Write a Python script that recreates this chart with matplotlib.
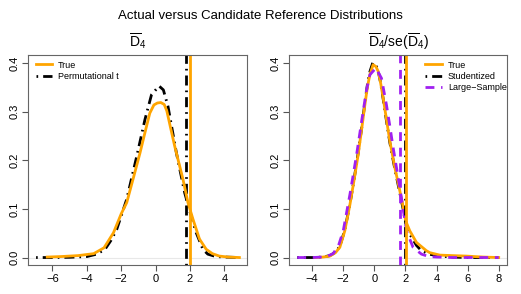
import matplotlib
matplotlib.use('Agg')
import matplotlib.pyplot as plt

plt.rcParams['font.family'] = ['Liberation Sans', 'DejaVu Sans']
plt.rcParams['mathtext.fontset'] = 'custom'
plt.rcParams['mathtext.rm'] = 'Liberation Sans'
plt.rcParams['mathtext.it'] = 'Liberation Sans'

# left panel: Dbar_4
true_x = [-6.3, -5.5, -4.5, -3.6, -3.0, -2.45, -2.0, -1.68, -1.3, -0.91, -0.6, -0.34, -0.1,
          0.1, 0.3, 0.5, 0.65, 0.85, 1.11, 1.59, 1.88, 2.17, 2.55, 2.94, 3.3, 3.7, 4.2, 4.87]
true_y = [0.001, 0.002, 0.004, 0.008, 0.02, 0.051, 0.09, 0.113, 0.163, 0.215, 0.26, 0.297, 0.314,
          0.318, 0.319, 0.315, 0.302, 0.27, 0.229, 0.161, 0.113, 0.079, 0.038, 0.017, 0.008, 0.003, 0.001, 0.0]
perm_x = [-6.95, -6.0, -5.0, -4.0, -3.42, -2.94, -2.6, -2.26, -1.68, -1.1, -0.62, -0.24, 0.2,
          0.45, 0.72, 1.21, 1.69, 2.07, 2.36, 2.75, 3.03, 3.5, 4.0, 4.9]
perm_y = [0.0, 0.0, 0.0005, 0.002, 0.007, 0.017, 0.035, 0.058, 0.12, 0.208, 0.284, 0.335, 0.353,
          0.345, 0.311, 0.215, 0.133, 0.085, 0.051, 0.017, 0.007, 0.002, 0.001, 0.0]
crit_true_left = 1.97
crit_perm = 1.78

# right panel: Dbar_4 / se(Dbar_4)
true2_x = [-3.8, -3.3, -2.86, -2.5, -2.22, -1.9, -1.57, -1.3, -1.04, -0.8, -0.61, -0.45, -0.29, -0.08,
           0.1, 0.25, 0.4, 0.57, 0.8, 1.0, 1.32, 1.64, 1.85, 2.02, 2.28, 2.71, 3.35, 3.57, 4.21,
           5.0, 5.9, 7.0, 8.0]
true2_y = [0.0, 0.001, 0.003, 0.01, 0.021, 0.055, 0.109, 0.16, 0.212, 0.268, 0.314, 0.35, 0.376, 0.397,
           0.393, 0.383, 0.36, 0.328, 0.28, 0.239, 0.185, 0.137, 0.105, 0.075, 0.055, 0.031, 0.014, 0.01, 0.005,
           0.004, 0.003, 0.001, 0.0]
stud_x = [-4.96, -4.0, -3.3, -2.86, -2.5, -2.22, -1.9, -1.57, -1.3, -1.04, -0.8, -0.61, -0.45, -0.29,
          -0.1, 0.1, 0.25, 0.4, 0.57, 0.8, 1.0, 1.32, 1.64, 1.85, 2.02, 2.28, 2.71, 3.0, 3.5, 4.2,
          5.0, 6.0, 7.0, 8.0]
stud_y = [0.0, 0.0, 0.001, 0.004, 0.011, 0.023, 0.057, 0.11, 0.162, 0.215, 0.27, 0.318, 0.355, 0.382,
          0.401, 0.396, 0.384, 0.36, 0.326, 0.277, 0.236, 0.182, 0.133, 0.1, 0.07, 0.048, 0.025, 0.015, 0.007, 0.003,
          0.001, 0.0, 0.0, 0.0]
large_x = [-4.96, -4.0, -3.3, -3.0, -2.65, -2.3, -2.0, -1.57, -1.36, -1.14, -0.72, -0.5, -0.29, 0.1,
           0.46, 0.78, 1.0, 1.21, 1.64, 2.07, 2.49, 3.03, 3.5, 4.0, 5.0, 6.5, 8.0]
large_y = [0.0, 0.0, 0.001, 0.003, 0.008, 0.025, 0.055, 0.13, 0.17, 0.212, 0.301, 0.345, 0.376, 0.39,
           0.369, 0.314, 0.27, 0.226, 0.144, 0.055, 0.021, 0.007, 0.002, 0.001, 0.0, 0.0, 0.0]
crit_true_right = 2.02
crit_stud = 1.97
crit_large = 1.645

ORANGE = '#FFA500'
PURPLE = '#A020F0'
DOTDASH = (0, (0.6, 1.8, 3.6, 1.8))
DASHED = (0, (3.2, 2.4))


def style_axes(ax, xlim, xticks):
    ax.set_xlim(xlim)
    ax.set_ylim(-0.016, 0.416)
    ax.set_xticks(xticks)
    ax.set_xticklabels([str(t) if t >= 0 else '\u2212' + str(-t) for t in xticks])
    ax.set_yticks([0.0, 0.1, 0.2, 0.3, 0.4])
    ax.set_yticklabels(['0.0', '0.1', '0.2', '0.3', '0.4'], rotation=90, va='center')
    ax.tick_params(labelsize=8, length=4, width=0.8, color='#555555', pad=2)
    for s in ax.spines.values():
        s.set_color('#666666')
        s.set_linewidth(0.8)
    ax.axhline(0, color='#e8e8e8', lw=0.8, zorder=0)


def add_legend(ax, order, x0):
    h, l = ax.get_legend_handles_labels()
    ax.legend([h[i] for i in order], [l[i] for i in order], loc='upper left',
              bbox_to_anchor=(x0, 0.975), frameon=False, fontsize=6.5,
              handlelength=1.8, handletextpad=0.7, labelspacing=0.25,
              borderpad=0, borderaxespad=0)


fig = plt.figure(figsize=(5.21, 2.94), dpi=100)
fig.suptitle('Actual versus Candidate Reference Distributions', fontsize=9.5, y=0.965)

ax1 = fig.add_axes([0.0537, 0.0976, 0.420, 0.714])
ax1.plot(perm_x, perm_y, color='black', lw=2, ls=DOTDASH, label='Permutational t')
ax1.axvline(crit_perm, color='black', lw=2, ls=DOTDASH)
ax1.plot(true_x, true_y, color=ORANGE, lw=2, label='True')
ax1.axvline(crit_true_left, color=ORANGE, lw=2)
style_axes(ax1, (-7.42, 5.3), [-6, -4, -2, 0, 2, 4])
ax1.set_title(r'$\overline{\mathrm{D}}_4$', fontsize=10, pad=6)
add_legend(ax1, [1, 0], 0.035)

ax2 = fig.add_axes([0.555, 0.0976, 0.418, 0.714])
ax2.plot(stud_x, stud_y, color='black', lw=2, ls=DOTDASH, label='Studentized')
ax2.plot(true2_x, true2_y, color=ORANGE, lw=2, label='True')
ax2.plot(large_x, large_y, color=PURPLE, lw=2, ls=DASHED, label='Large\u2212Sample')
ax2.axvline(crit_large, color=PURPLE, lw=2, ls=DASHED)
ax2.axvline(crit_stud, color='black', lw=2, ls=DOTDASH)
ax2.axvline(crit_true_right, color=ORANGE, lw=2)
style_axes(ax2, (-5.48, 8.53), [-4, -2, 0, 2, 4, 6, 8])
ax2.set_title(r'$\overline{\mathrm{D}}_4/\mathrm{se}(\overline{\mathrm{D}}_4)$', fontsize=10, pad=6)
add_legend(ax2, [1, 0, 2], 0.625)

plt.savefig('out.png', dpi=100)
